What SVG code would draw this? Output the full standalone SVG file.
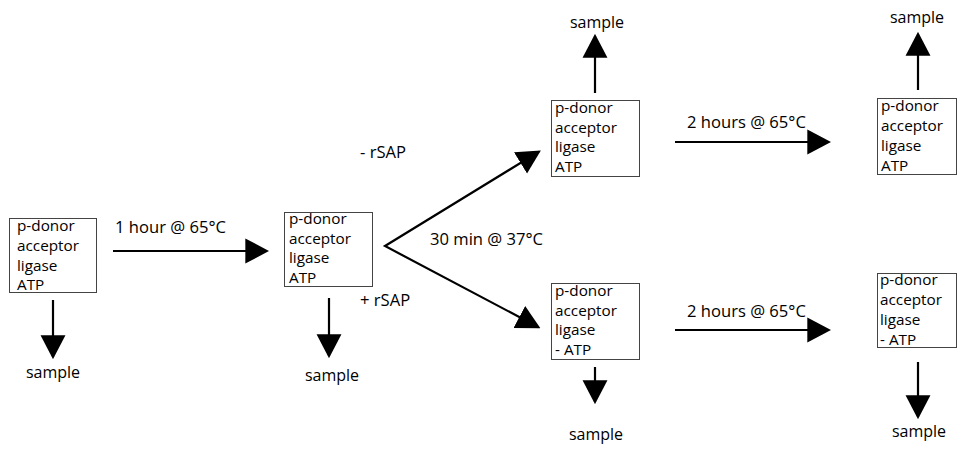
<svg xmlns="http://www.w3.org/2000/svg" width="958" height="449" viewBox="0 0 958 449">
<style>
.box{fill:#fff;stroke:#444;stroke-width:1}
.bt{font-family:"Open Sans",sans-serif;font-size:15.3px;fill:#000}
.lb{font-family:"Open Sans",sans-serif;font-size:16.6px;fill:#000}
.sm{font-family:"Open Sans",sans-serif;font-size:16px;fill:#000;text-anchor:middle}
.ln{stroke:#000;stroke-width:2.2;fill:none}
</style>
<defs>
<marker id="ah" markerUnits="userSpaceOnUse" markerWidth="24" markerHeight="26" viewBox="0 -12 22 24" refX="20" refY="0" orient="auto-start-reverse">
<polygon points="0,-11.5 22,0 0,11.5" fill="#000"/>
</marker>
</defs>
<rect width="958" height="449" fill="#fff"/>
<g id="connectors">
<line class="ln" x1="113" y1="251" x2="267" y2="251" marker-end="url(#ah)"/>
<line class="ln" x1="53" y1="300" x2="53" y2="357" marker-end="url(#ah)"/>
<line class="ln" x1="329" y1="298" x2="329" y2="356" marker-end="url(#ah)"/>
<polyline class="ln" points="539,151.6 385,246 538.5,327.2" marker-start="url(#ah)" marker-end="url(#ah)"/>
<line class="ln" x1="595" y1="93" x2="595" y2="36" marker-end="url(#ah)"/>
<line class="ln" x1="675" y1="142" x2="829" y2="142" marker-end="url(#ah)"/>
<line class="ln" x1="918" y1="90" x2="918" y2="34" marker-end="url(#ah)"/>
<line class="ln" x1="595" y1="367" x2="595" y2="402" marker-end="url(#ah)"/>
<line class="ln" x1="675" y1="330" x2="829" y2="330" marker-end="url(#ah)"/>
<line class="ln" x1="918" y1="362" x2="918" y2="417" marker-end="url(#ah)"/>
<text class="lb" x="115" y="233">1 hour @ 65°C</text>
<text class="lb" x="360" y="158">- rSAP</text>
<text class="lb" x="360" y="306">+ rSAP</text>
<text class="lb" x="430" y="245">30 min @ 37°C</text>
<text class="lb" x="687" y="128">2 hours @ 65°C</text>
<text class="lb" x="687" y="317">2 hours @ 65°C</text>
</g>
<g id="n1">
<rect class="box" x="9.5" y="218.5" width="87" height="74"/>
<text class="bt" x="17" y="231">p-donor</text>
<text class="bt" x="17" y="251">acceptor</text>
<text class="bt" x="17" y="271">ligase</text>
<text class="bt" x="17" y="290">ATP</text>
</g>
<g id="s1"><text class="sm" x="53" y="378">sample</text></g>
<g id="n2">
<rect class="box" x="284.5" y="212.5" width="88" height="74"/>
<text class="bt" x="289" y="224">p-donor</text>
<text class="bt" x="289" y="243.5">acceptor</text>
<text class="bt" x="289" y="263">ligase</text>
<text class="bt" x="289" y="282.5">ATP</text>
</g>
<g id="s2"><text class="sm" x="332" y="381">sample</text></g>
<g id="n3">
<rect class="box" x="551.5" y="100.5" width="88" height="76"/>
<text class="bt" x="555" y="113">p-donor</text>
<text class="bt" x="555" y="132.5">acceptor</text>
<text class="bt" x="555" y="152">ligase</text>
<text class="bt" x="555" y="171.5">ATP</text>
</g>
<g id="s3"><text class="sm" x="597" y="28">sample</text></g>
<g id="n4">
<rect class="box" x="877.5" y="98.5" width="79" height="76"/>
<text class="bt" x="881" y="111">p-donor</text>
<text class="bt" x="881" y="131">acceptor</text>
<text class="bt" x="881" y="151">ligase</text>
<text class="bt" x="881" y="171">ATP</text>
</g>
<g id="s4"><text class="sm" x="917" y="23">sample</text></g>
<g id="n5">
<rect class="box" x="551.5" y="283.5" width="88" height="76"/>
<text class="bt" x="555" y="296">p-donor</text>
<text class="bt" x="555" y="315.5">acceptor</text>
<text class="bt" x="555" y="335">ligase</text>
<text class="bt" x="555" y="354.5">- ATP</text>
</g>
<g id="s5"><text class="sm" x="596" y="440">sample</text></g>
<g id="n6">
<rect class="box" x="877.5" y="273.5" width="79" height="74"/>
<text class="bt" x="880" y="285">p-donor</text>
<text class="bt" x="880" y="305">acceptor</text>
<text class="bt" x="880" y="325">ligase</text>
<text class="bt" x="880" y="344.5">- ATP</text>
</g>
<g id="s6"><text class="sm" x="919" y="437">sample</text></g>
</svg>
